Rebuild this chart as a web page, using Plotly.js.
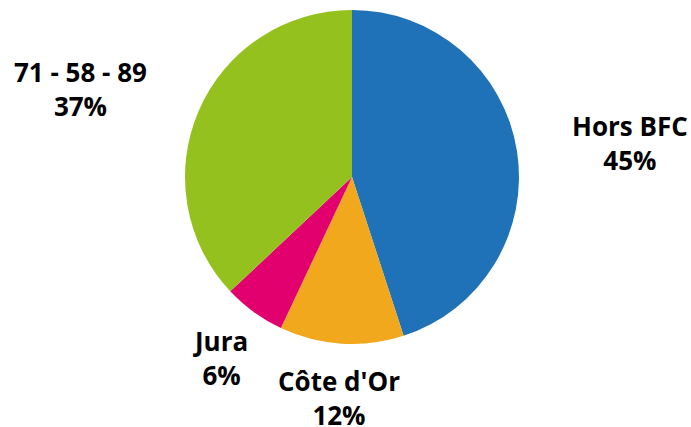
<!DOCTYPE html>
<html><head><meta charset="utf-8">
<script src="https://cdn.plot.ly/plotly-3.0.1.min.js"></script>
<style>html,body{margin:0;padding:0;background:#fff}#c{width:691px;height:427px}</style>
</head><body><div id="c"></div>
<script>
const categories = ["Hors BFC", "Côte d'Or", "Jura", "71 - 58 - 89"];
const values = [45, 12, 6, 37];
const colors = ["#1F71B8", "#F2A81D", "#E2006E", "#95C11F"];
// label anchor positions (pixels) for each category
const labelPos = [[630, 143], [339, 398], [221, 358], [80, 89]];

const W = 691, H = 427;
const cx = 352, cy = 177, r = 167;
const total = values.reduce((a, b) => a + b, 0);

const annotations = categories.map((c, i) => ({
  x: labelPos[i][0] / W, y: 1 - labelPos[i][1] / H,
  xref: 'paper', yref: 'paper', xanchor: 'center', yanchor: 'middle',
  showarrow: false, align: 'center',
  text: '<b>' + c + '<br>' + Math.round(values[i] / total * 100) + '%</b>',
  font: {family: 'Open Sans', size: 26, color: '#000'}
}));

Plotly.newPlot('c', [{
  type: 'pie', labels: categories, values: values, sort: false,
  direction: 'clockwise', rotation: 0,
  marker: {colors: colors, line: {width: 0}},
  textinfo: 'none', hoverinfo: 'label+percent',
  domain: {x: [(cx - r) / W, (cx + r) / W], y: [1 - (cy + r) / H, 1 - (cy - r) / H]}
}], {
  width: W, height: H, margin: {l: 0, r: 0, t: 0, b: 0},
  showlegend: false, paper_bgcolor: '#fff', annotations: annotations
}, {displayModeBar: false, staticPlot: true});
</script></body></html>
